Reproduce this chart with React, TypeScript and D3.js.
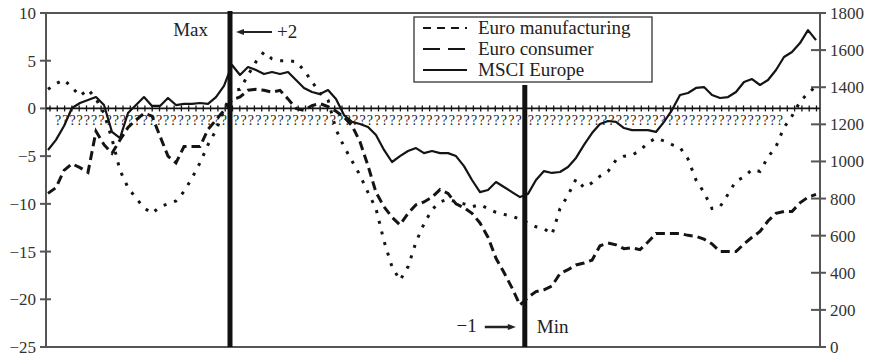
import React from 'react';
import * as d3 from 'd3';

const W = 874;
const H = 359;

// x categories: month index across the period
const months = d3.range(97);

// Left axis (balance %) series
const euroManufacturing = [
  2.0, 2.6, 3.0, 2.2, 1.3, 2.0, 1.0, -0.5, -3.2, -6.5,
  -8.3, -9.4, -10.4, -11.0, -10.3, -10.0, -9.7, -8.7, -7.3, -5.7,
  -3.8, -2.3, -0.2, 1.9, 2.0, 3.5, 4.9, 5.9, 5.2, 5.0,
  5.0, 4.9, 4.0, 2.8, 1.6, 0.9, -2.2, -4.0, -5.5, -7.0,
  -8.8, -10.5, -13.9, -16.6, -18.0, -16.6, -14.0, -12.1, -10.6, -9.8,
  -9.5, -9.8, -10.0, -10.3, -10.1, -10.5, -10.9, -11.1, -11.3, -11.6,
  -12.0, -12.4, -12.6, -13.2, -10.5, -9.1, -7.4, -8.3, -7.8, -7.1,
  -6.6, -5.4, -5.0, -4.9, -4.4, -3.6, -3.1, -3.4, -3.8, -4.1,
  -5.3, -7.5, -8.8, -10.5, -10.3, -9.0, -7.6, -7.2, -6.4, -6.6,
  -5.1, -4.0, -2.0, -0.8, 0.7, 1.6, 2.3,
];

const euroConsumer = [
  -8.9, -8.3, -6.5, -5.8, -6.2, -6.7, -2.4, -3.8, -4.7, -3.3,
  -2.0, -1.2, -0.5, -0.8, -2.9, -5.0, -5.7, -4.0, -4.0, -4.0,
  -2.2, -1.2, -0.2, 0.9, 1.2, 1.9, 2.0, 1.9, 1.7, 1.9,
  1.0, 0.0, -0.2, 0.3, 0.5, 0.2, -0.3, -0.9, -1.8, -3.5,
  -6.0, -8.8, -10.3, -11.4, -12.2, -11.0, -10.1, -9.8, -9.3, -8.5,
  -8.9, -10.0, -10.4, -11.0, -12.0, -13.5, -15.7, -17.2, -18.8, -20.6,
  -19.8, -19.2, -19.0, -18.6, -17.3, -16.9, -16.4, -16.2, -15.9, -14.4,
  -14.1, -14.3, -14.7, -14.6, -14.8, -14.0, -13.1, -13.1, -13.1, -13.1,
  -13.3, -13.4, -13.7, -14.2, -15.0, -15.0, -15.0, -14.2, -13.5, -12.9,
  -11.8, -11.0, -10.8, -10.8, -9.9, -9.3, -9.0,
];

// Right axis (index level) series
const msciEurope = [
  1062, 1116, 1191, 1288, 1315, 1331, 1347, 1304, 1159, 1126,
  1261, 1304, 1347, 1299, 1299, 1342, 1304, 1310, 1310, 1315,
  1310, 1347, 1407, 1520, 1466, 1509, 1493, 1471, 1482, 1471,
  1482, 1439, 1396, 1374, 1363, 1385, 1336, 1250, 1213, 1202,
  1186, 1142, 1062, 997, 1029, 1056, 1072, 1045, 1056, 1045,
  1045, 1029, 975, 900, 835, 846, 889, 862, 835, 808,
  825, 900, 948, 938, 943, 970, 1019, 1089, 1153, 1202,
  1218, 1213, 1180, 1169, 1169, 1169, 1159, 1213, 1277, 1358,
  1369, 1396, 1401, 1358, 1342, 1347, 1374, 1428, 1444, 1412,
  1439, 1493, 1563, 1590, 1638, 1708, 1654,
];

const leftTicks = [-25, -20, -15, -10, -5, 0, 5, 10];
const rightTicks = [0, 200, 400, 600, 800, 1000, 1200, 1400, 1600, 1800];
const seriesNames = ['Euro manufacturing', 'Euro consumer', 'MSCI Europe'];

// turning-point markers (month index)
const maxMonth = 22.75;
const minMonth = 59.6;
const maxLabel = 'Max';
const maxDelta = '+2';
const minLabel = 'Min';
const minDelta = '\u22121';
const placeholderCounts = [24, 39, 35];

const fmt = (v: number) => (v < 0 ? '\u2212' + Math.abs(v) : String(v));

export default function App() {
  const left = 46;
  const right = 820;
  const top = 13;
  const bottom = 347;

  const x = d3.scaleLinear().domain([0, months.length - 1]).range([48, 816]);
  const yL = d3.scaleLinear().domain([-25, 10]).range([bottom, top]);
  const yR = d3.scaleLinear().domain([0, 1800]).range([bottom, top]);

  const lineL = d3
    .line<number>()
    .x((_, i) => x(months[i]))
    .y((d) => yL(d));
  const lineR = d3
    .line<number>()
    .x((_, i) => x(months[i]))
    .y((d) => yR(d));

  const font = "'Liberation Serif', 'Times New Roman', serif";
  const ink = '#141414';
  const axisGrey = '#555';

  const y0 = yL(0);
  const zeroTicks = d3.range(left + 4, right, 7.3);

  const maxX = x(maxMonth);
  const minX = x(minMonth);

  const segs = [
    [55, maxX - 3],
    [maxX + 3, minX - 3],
    [minX + 3, 783],
  ];

  const legendRows = [
    { name: seriesNames[0], dash: '8,6', y: 28 },
    { name: seriesNames[1], dash: '17,8', y: 49 },
    { name: seriesNames[2], dash: null, y: 70 },
  ];

  return (
    <svg
      width={W}
      height={H}
      style={{ position: 'absolute', left: 0, top: 0, background: '#fff' }}
      fontFamily={font}
    >
      <rect x={0} y={0} width={W} height={H} fill="#fff" />

      {/* frame */}
      <line x1={left} x2={right} y1={top} y2={top} stroke={axisGrey} strokeWidth={2} />
      <line x1={left} x2={right} y1={bottom} y2={bottom} stroke={axisGrey} strokeWidth={2} />
      <line x1={left} x2={left} y1={top} y2={bottom} stroke={axisGrey} strokeWidth={2} />
      <line x1={right} x2={right} y1={top} y2={bottom} stroke={axisGrey} strokeWidth={2} />

      {/* left axis */}
      {leftTicks.map((t) => (
        <g key={'l' + t}>
          <line x1={left - 6} x2={left + 5} y1={yL(t)} y2={yL(t)} stroke={axisGrey} strokeWidth={2} />
          <text x={left - 10} y={yL(t)} dy="0.35em" textAnchor="end" fontSize={17} fill="#333">
            {fmt(t)}
          </text>
        </g>
      ))}

      {/* right axis */}
      {rightTicks.map((t) => (
        <g key={'r' + t}>
          <line x1={right - 9} x2={right + 6} y1={yR(t)} y2={yR(t)} stroke={axisGrey} strokeWidth={2} />
          <text x={right + 10} y={yR(t)} dy="0.35em" textAnchor="start" fontSize={17} fill="#333">
            {t}
          </text>
        </g>
      ))}

      {/* zero line with ticks */}
      <line x1={left} x2={right} y1={y0} y2={y0} stroke={ink} strokeWidth={1.8} />
      {zeroTicks.map((tx, i) => (
        <line key={'z' + i} x1={tx} x2={tx} y1={y0 - 3} y2={y0 + 3} stroke={ink} strokeWidth={1.3} />
      ))}

      {/* placeholder row */}
      {segs.map((s, i) => (
        <text
          key={'q' + i}
          x={s[0]}
          y={y0 + 17}
          fontSize={14}
          fill="#222"
          textLength={s[1] - s[0]}
          lengthAdjust="spacing"
        >
          {'?'.repeat(placeholderCounts[i])}
        </text>
      ))}

      {/* series */}
      <path d={lineL(euroManufacturing) || ''} fill="none" stroke={ink} strokeWidth={3} strokeDasharray="3,8" />
      <path d={lineL(euroConsumer) || ''} fill="none" stroke={ink} strokeWidth={3} strokeDasharray="9,5" />
      <path d={lineR(msciEurope) || ''} fill="none" stroke={ink} strokeWidth={2.2} strokeLinejoin="round" />

      {/* turning-point verticals */}
      <line x1={maxX} x2={maxX} y1={top - 2} y2={bottom} stroke="#111" strokeWidth={5} />
      <line x1={minX} x2={minX} y1={85} y2={bottom} stroke="#111" strokeWidth={5} />

      {/* Max annotation */}
      <text x={maxX - 22} y={36} textAnchor="end" fontSize={19} fill="#222">
        {maxLabel}
      </text>
      <line x1={maxX + 12} x2={maxX + 42} y1={32} y2={32} stroke="#222" strokeWidth={2} />
      <path d={`M${maxX + 6},32 L${maxX + 14},29 L${maxX + 14},35 Z`} fill="#222" />
      <text x={maxX + 47} y={38} fontSize={19} fill="#222">
        {maxDelta}
      </text>

      {/* Min annotation */}
      <text x={minX - 48} y={332} textAnchor="end" fontSize={19} fill="#222">
        {minDelta}
      </text>
      <line x1={minX - 40} x2={minX - 16} y1={327} y2={327} stroke="#222" strokeWidth={2.5} />
      <path d={`M${minX - 9},327 L${minX - 17},324 L${minX - 17},330 Z`} fill="#222" />
      <text x={minX + 12} y={333} fontSize={19} fill="#222">
        {minLabel}
      </text>

      {/* legend */}
      <rect x={414} y={17} width={238} height={65} fill="#fff" stroke="#333" strokeWidth={1.3} />
      {legendRows.map((r) => (
        <g key={r.name}>
          <line
            x1={423}
            x2={467}
            y1={r.y}
            y2={r.y}
            stroke={ink}
            strokeWidth={2}
            strokeDasharray={r.dash || undefined}
          />
          <text x={478} y={r.y} dy="0.33em" fontSize={19} fill="#222">
            {r.name}
          </text>
        </g>
      ))}
    </svg>
  );
}
